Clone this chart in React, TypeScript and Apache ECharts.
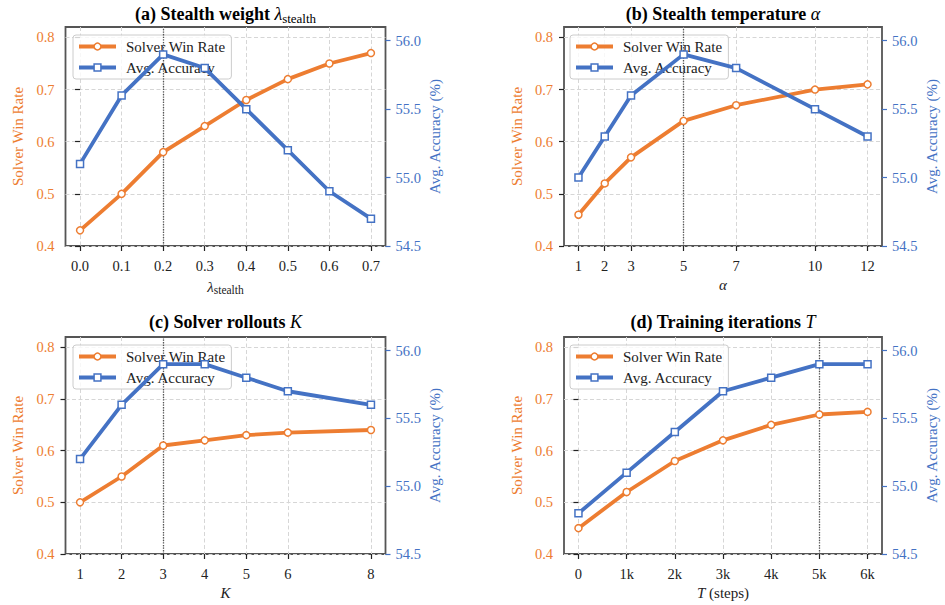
import React, { useEffect, useRef } from "react";
import * as echarts from "echarts";

const FONT = "Liberation Serif, Times New Roman, DejaVu Serif, serif";
const ORANGE = "#ED7D31";
const BLUE = "#4472C4";
const DARK = "#222222";

// ---- data ----
const xA = [0.0, 0.1, 0.2, 0.3, 0.4, 0.5, 0.6, 0.7];
const labelsA = ["0.0", "0.1", "0.2", "0.3", "0.4", "0.5", "0.6", "0.7"];
const winA = [0.43, 0.5, 0.58, 0.63, 0.68, 0.72, 0.75, 0.77];
const accA = [55.1, 55.6, 55.9, 55.8, 55.5, 55.2, 54.9, 54.7];
const bestA = 0.2;

const xB = [1, 2, 3, 5, 7, 10, 12];
const labelsB = ["1", "2", "3", "5", "7", "10", "12"];
const winB = [0.46, 0.52, 0.57, 0.64, 0.67, 0.7, 0.71];
const accB = [55.0, 55.3, 55.6, 55.9, 55.8, 55.5, 55.3];
const bestB = 5;

const xC = [1, 2, 3, 4, 5, 6, 8];
const labelsC = ["1", "2", "3", "4", "5", "6", "8"];
const winC = [0.5, 0.55, 0.61, 0.62, 0.63, 0.635, 0.64];
const accC = [55.2, 55.6, 55.9, 55.9, 55.8, 55.7, 55.6];
const bestC = 3;

const xD = [0, 1, 2, 3, 4, 5, 6];
const labelsD = ["0", "1k", "2k", "3k", "4k", "5k", "6k"];
const winD = [0.45, 0.52, 0.58, 0.62, 0.65, 0.67, 0.675];
const accD = [54.8, 55.1, 55.4, 55.7, 55.8, 55.9, 55.9];
const bestD = 5;

const leftTicks = [0.4, 0.5, 0.6, 0.7, 0.8];
const rightTicks = [54.5, 55.0, 55.5, 56.0];
const LEFT_MIN = 0.4;
const LEFT_MAX = 0.82;
const RIGHT_MIN = 54.5;
const RIGHT_MAX = 56.1;

const WIN_NAME = "Solver Win Rate";
const ACC_NAME = "Avg. Accuracy";

const titles = [
  "{b|(a) Stealth weight }{m|λ}{s|stealth}",
  "{b|(b) Stealth temperature }{m|α}",
  "{b|(c) Solver rollouts }{m|K}",
  "{b|(d) Training iterations }{m|T}",
];
const xNames = ["{m|λ}{s|stealth}", "{m|α}", "{m|K}", "{m|T}{n| (steps)}"];

const panels = [
  { x: xA, labels: labelsA, win: winA, acc: accA, best: bestA },
  { x: xB, labels: labelsB, win: winB, acc: accB, best: bestB },
  { x: xC, labels: labelsC, win: winC, acc: accC, best: bestC },
  { x: xD, labels: labelsD, win: winD, acc: accD, best: bestD },
];

// ---- layout ----
const grids = [
  { left: 65.5, top: 27, width: 320, height: 219 },
  { left: 564, top: 27, width: 318, height: 219 },
  { left: 65.5, top: 337, width: 320, height: 217 },
  { left: 564, top: 337, width: 318, height: 217 },
];
const legendPos = [
  { left: 73, top: 35 },
  { left: 570, top: 35 },
  { left: 73, top: 345 },
  { left: 570, top: 345 },
];
const titlePos = [
  { x: 225.5, y: 14 },
  { x: 723, y: 14 },
  { x: 225.5, y: 322 },
  { x: 723, y: 322 },
];

const dashed = { type: [4, 2.5] as any, color: "#d6d6d6", width: 1 };

function buildOption() {
  const xAxis: any[] = [];
  const yAxis: any[] = [];
  const series: any[] = [];
  const legend: any[] = [];
  const graphic: any[] = [];

  panels.forEach((p, i) => {
    const first = p.x[0];
    const last = p.x[p.x.length - 1];
    const pad = (last - first) * 0.05;
    xAxis.push({
      type: "value",
      gridIndex: i,
      min: first - pad,
      max: last + pad,
      axisLine: { show: false },
      axisTick: {
        show: true,
        length: 5,
        customValues: p.x,
        lineStyle: { color: DARK, width: 1.2 },
      },
      axisLabel: {
        customValues: p.x,
        color: DARK,
        fontSize: 14.5,
        fontFamily: FONT,
        margin: 12,
        formatter: (v: number) => {
          const k = p.x.findIndex((t) => Math.abs(t - v) < 1e-9);
          return k >= 0 ? p.labels[k] : "";
        },
      },
      splitLine: { show: true, lineStyle: dashed },
      name: xNames[i],
      nameLocation: "middle",
      nameGap: 31,
      nameTextStyle: {
        color: DARK,
        fontFamily: FONT,
        rich: {
          m: { fontSize: 15, fontStyle: "italic", fontFamily: FONT, color: DARK },
          n: { fontSize: 15, fontFamily: FONT, color: DARK },
          s: { fontSize: 11.5, fontFamily: FONT, color: DARK, padding: [7, 0, 0, 0] },
        },
      },
    });
    yAxis.push({
      type: "value",
      gridIndex: i,
      position: "left",
      min: LEFT_MIN,
      max: LEFT_MAX,
      interval: 0.1,
      axisLine: { show: false },
      axisTick: {
        show: true,
        length: 5,
        customValues: leftTicks,
        lineStyle: { color: DARK, width: 1.2 },
      },
      axisLabel: {
        customValues: leftTicks,
        color: ORANGE,
        fontSize: 14.5,
        fontFamily: FONT,
        margin: 11,
        formatter: (v: number) => v.toFixed(1),
      },
      splitLine: { show: true, lineStyle: dashed },
      name: "Solver Win Rate",
      nameLocation: "middle",
      nameRotate: 90,
      nameGap: 40,
      nameTextStyle: { color: ORANGE, fontSize: 15, fontFamily: FONT },
    });
    yAxis.push({
      type: "value",
      gridIndex: i,
      position: "right",
      min: RIGHT_MIN,
      max: RIGHT_MAX,
      interval: 0.5,
      axisLine: { show: false },
      axisTick: {
        show: true,
        length: 5,
        customValues: rightTicks,
        lineStyle: { color: BLUE, width: 1.2 },
      },
      axisLabel: {
        customValues: rightTicks,
        color: BLUE,
        fontSize: 14.5,
        fontFamily: FONT,
        margin: 10,
        formatter: (v: number) => v.toFixed(1),
      },
      splitLine: { show: false },
      name: "Avg. Accuracy (%)",
      nameLocation: "middle",
      nameRotate: 90,
      nameGap: 42,
      nameTextStyle: { color: BLUE, fontSize: 15, fontFamily: FONT },
    });

    series.push({
      type: "line",
      name: WIN_NAME,
      xAxisIndex: i,
      yAxisIndex: 2 * i,
      data: p.x.map((v, j) => [v, p.win[j]]),
      symbol: "circle",
      symbolSize: 7,
      lineStyle: { color: ORANGE, width: 3.8 },
      itemStyle: { color: "#ffffff", borderColor: ORANGE, borderWidth: 1.5 },
      z: 5,
      markLine: {
        silent: true,
        symbol: ["none", "none"],
        label: { show: false },
        lineStyle: { type: "dotted", color: "#555555", width: 1.3 },
        data: [{ xAxis: p.best }],
      },
    });
    series.push({
      type: "line",
      name: ACC_NAME,
      xAxisIndex: i,
      yAxisIndex: 2 * i + 1,
      data: p.x.map((v, j) => [v, p.acc[j]]),
      symbol: "rect",
      symbolSize: 7,
      lineStyle: { color: BLUE, width: 3.8 },
      itemStyle: { color: "#ffffff", borderColor: BLUE, borderWidth: 1.5 },
      z: 6,
    });

    legend.push({
      show: true,
      left: legendPos[i].left,
      top: legendPos[i].top,
      orient: "vertical",
      data: [WIN_NAME, ACC_NAME],
      itemWidth: 37,
      itemHeight: 8.5,
      itemGap: 6,
      padding: [4, 6, 4, 4],
      backgroundColor: "rgba(255,255,255,0.8)",
      borderColor: "#cccccc",
      borderWidth: 1,
      borderRadius: 3,
      selectedMode: false,
      lineStyle: { width: 4 },
      itemStyle: { borderWidth: 1.5 },
      textStyle: { fontSize: 15, fontFamily: FONT, color: DARK, padding: [0, 0, 0, 5] },
      z: 4,
    });

    graphic.push({
      type: "text",
      x: titlePos[i].x,
      y: titlePos[i].y,
      style: {
        text: titles[i],
        align: "center",
        verticalAlign: "middle",
        fill: "#000",
        rich: {
          b: { fontSize: 18, fontWeight: "bold", fontFamily: FONT, fill: "#000" },
          m: { fontSize: 18, fontStyle: "italic", fontFamily: FONT, fill: "#000" },
          s: { fontSize: 13, fontFamily: FONT, fill: "#000", padding: [8, 0, 0, 0] },
        },
      },
    });
  });

  return {
    animation: false,
    backgroundColor: "#ffffff",
    textStyle: { fontFamily: FONT },
    grid: grids.map((g) => ({
      ...g,
      show: true,
      borderColor: "#555555",
      borderWidth: 1.8,
      backgroundColor: "transparent",
      containLabel: false,
    })),
    xAxis,
    yAxis,
    legend,
    series,
    graphic,
  };
}

export default function App() {
  const ref = useRef<HTMLDivElement>(null);
  useEffect(() => {
    document.body.style.margin = "0";
    const chart = echarts.init(ref.current!, undefined, { renderer: "svg" });
    chart.setOption(buildOption() as any);
    return () => chart.dispose();
  }, []);
  return <div ref={ref} style={{ width: 945, height: 605 }} />;
}
